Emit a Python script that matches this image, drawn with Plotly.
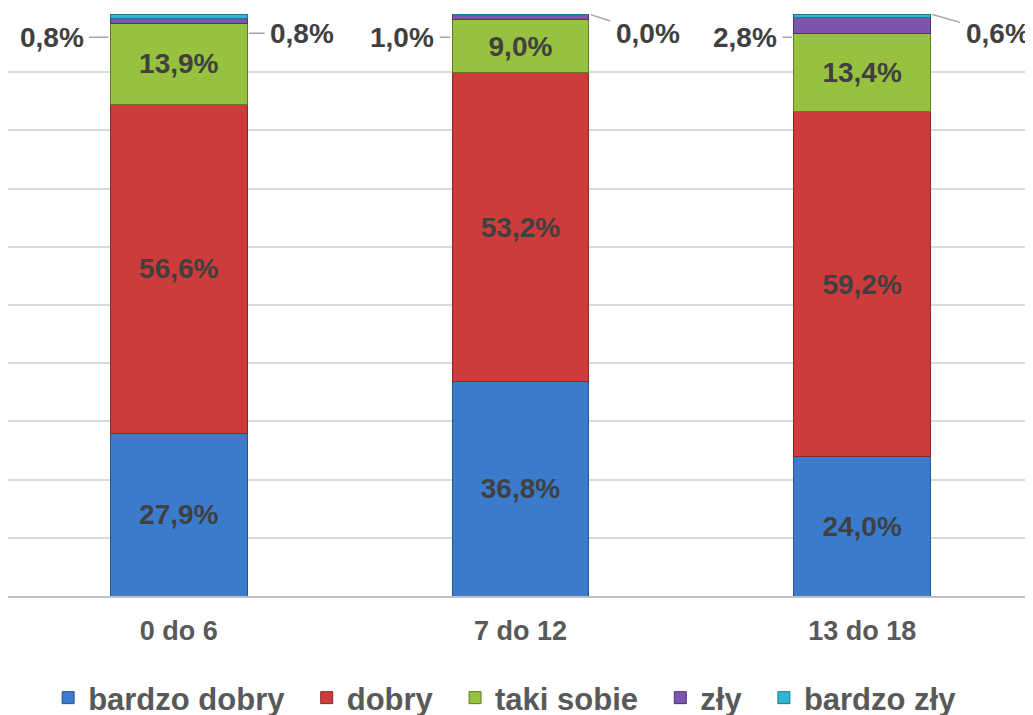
import plotly.graph_objects as go

categories = ['0 do 6', '7 do 12', '13 do 18']
bardzo_dobry = [27.9, 36.8, 24.0]
dobry = [56.6, 53.2, 59.2]
taki_sobie = [13.9, 9.0, 13.4]
zly = [0.8, 1.0, 2.8]
bardzo_zly = [0.8, 0.0, 0.6]

series = [
    ('bardzo dobry', bardzo_dobry, '#3b7bcc', '#24558f', True),
    ('dobry', dobry, '#cd3b3b', '#8e2525', True),
    ('taki sobie', taki_sobie, '#98c140', '#5f7c24', True),
    ('zły', zly, '#7d54b0', '#4d3272', False),
    ('bardzo zły', bardzo_zly, '#2fb6d2', '#1c7a8d', False),
]

font_family = 'Liberation Sans, Arial, sans-serif'
label_color = '#404040'
bar_width = 0.4
pad = '\u00a0\u00a0'  # extra room between legend entries

fig = go.Figure()
for k, (name, vals, color, edge, inside) in enumerate(series):
    fig.add_trace(go.Bar(
        name=name + (pad if k < len(series) - 1 else ''),
        x=categories,
        y=vals,
        width=bar_width,
        marker=dict(color=color, line=dict(color=edge, width=1)),
        texttemplate='%{y:.1f}%' if inside else None,
        textposition='inside' if inside else 'none',
        insidetextanchor='middle',
        textangle=0,
        constraintext='none',
        textfont=dict(family=font_family, size=28, color=label_color, weight='bold'),
        hoverinfo='skip',
    ))


def pct(v):
    return f'{v:.1f}%'.replace('.', ',')


# outside labels for the thin segments, with short leader lines
annotations = []
left_ax = [-59, -50, -49]
right_ax = [55, 59, 67]
right_ay = [0, 19, 19]
for i, cat in enumerate(categories):
    top = bardzo_dobry[i] + dobry[i] + taki_sobie[i] + zly[i] + bardzo_zly[i]
    annotations.append(dict(
        x=i - bar_width / 2, y=top - 4.0, xref='x', yref='y',
        text=pct(zly[i]), showarrow=True, arrowhead=0, arrowwidth=1.5,
        arrowcolor='#a6a6a6', ax=left_ax[i], ay=0, standoff=2, borderpad=5,
        font=dict(family=font_family, size=28, color=label_color, weight='bold'),
    ))
    annotations.append(dict(
        x=i + bar_width / 2, y=top - (3.3 if right_ay[i] == 0 else 0), xref='x', yref='y',
        text=pct(bardzo_zly[i]), showarrow=True, arrowhead=0, arrowwidth=1.5,
        arrowcolor='#a6a6a6', ax=right_ax[i], ay=right_ay[i], standoff=2, borderpad=5,
        font=dict(family=font_family, size=28, color=label_color, weight='bold'),
    ))

# page body adds an 8px offset; the legend is meant to be cut at the bottom edge
fig.update_layout(
    barmode='stack',
    width=1025, height=717,
    margin=dict(l=0, r=0, t=6, b=129),
    paper_bgcolor='white',
    plot_bgcolor='white',
    separators=', ',
    showlegend=True,
    legend=dict(
        orientation='h', x=0.485, xanchor='center',
        yref='container', y=0, yanchor='bottom',
        font=dict(family=font_family, size=31, color='#595959', weight='bold'),
        itemwidth=30, traceorder='normal',
    ),
    annotations=annotations,
    bargap=0.6,
)
fig.update_xaxes(
    range=[-0.5, 2.5],
    showline=True, linecolor='#bfbfbf', linewidth=1.5,
    ticks='', ticklabelstandoff=10,
    tickfont=dict(family=font_family, size=27, color='#595959', weight='bold'),
)
fig.update_yaxes(
    range=[0, 100], dtick=10,
    showgrid=True, gridcolor='#d9d9d9', gridwidth=1.5,
    showticklabels=False, zeroline=False,
)

fig.write_html('out.html')
